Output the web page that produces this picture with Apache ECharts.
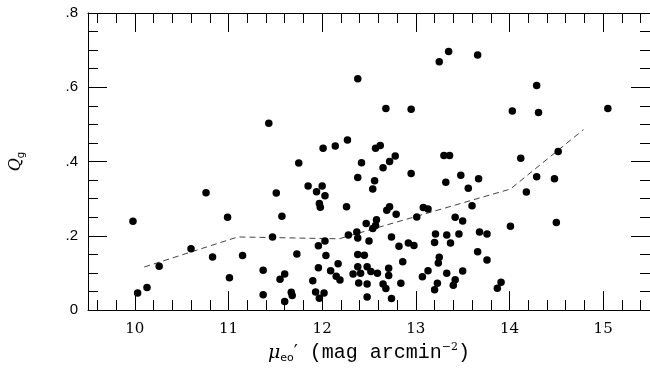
<!DOCTYPE html>
<html>
<head>
<meta charset="utf-8">
<script src="https://cdn.jsdelivr.net/npm/echarts@6/dist/echarts.min.js"></script>
<style>
  html, body { margin: 0; background: #fff; }
  #chart { width: 650px; height: 369px; }
</style>
</head>
<body>
<div id="chart"></div>
<script>
// surface brightness (mag arcmin^-2) and Q_g
var muValues = [
  9.98, 10.76, 10.99, 10.03, 10.13, 10.26, 10.60, 10.83, 11.01, 11.15,
  11.37, 11.37, 11.43, 11.51, 11.57, 11.47, 11.73, 11.60, 11.55, 11.60,
  11.67, 11.68, 11.75, 11.85, 12.00, 11.94, 12.03, 11.97, 11.98, 12.01,
  12.14, 12.27, 11.96, 12.03, 12.04, 11.96, 11.90, 11.93, 12.02, 11.97,
  12.09, 12.17, 12.15, 12.19, 12.28, 12.37, 12.38, 12.50, 12.54, 12.57,
  12.58, 12.47, 12.38, 12.42, 12.56, 12.54, 12.26, 12.57, 12.62, 12.65,
  12.72, 12.78, 12.38, 12.68, 12.95, 13.25, 13.35, 13.66, 14.29, 14.03,
  14.31, 15.05, 12.95, 13.30, 13.36, 13.32, 13.48, 13.67, 13.56, 14.12,
  14.52, 14.29, 14.48, 14.18, 13.60, 13.42, 13.50, 14.01, 14.50, 12.69,
  12.72, 12.79, 13.08, 13.13, 13.01, 12.74, 12.82, 12.92, 12.98, 13.21,
  13.20, 13.33, 13.37, 13.46, 13.68, 13.76, 13.66, 13.76, 12.86, 13.25,
  13.24, 12.71, 12.71, 13.13, 13.07, 13.33, 13.50, 13.42, 13.40, 13.23,
  13.20, 12.84, 12.65, 12.68, 12.74, 13.91, 13.87, 12.38, 12.48, 12.52,
  12.59, 12.33, 12.41, 12.39, 12.48, 12.48, 12.38, 12.45
]
var qValues = [
  0.239, 0.316, 0.250, 0.046, 0.061, 0.118, 0.165, 0.143, 0.087, 0.147,
  0.107, 0.041, 0.503, 0.315, 0.253, 0.197, 0.151, 0.097, 0.083, 0.023,
  0.048, 0.039, 0.396, 0.334, 0.334, 0.319, 0.308, 0.287, 0.277, 0.436,
  0.442, 0.458, 0.173, 0.186, 0.147, 0.114, 0.079, 0.049, 0.046, 0.032,
  0.106, 0.125, 0.091, 0.081, 0.202, 0.210, 0.194, 0.186, 0.220, 0.228,
  0.243, 0.233, 0.357, 0.397, 0.348, 0.326, 0.278, 0.436, 0.443, 0.383,
  0.400, 0.415, 0.623, 0.543, 0.541, 0.669, 0.696, 0.687, 0.605, 0.536,
  0.532, 0.543, 0.368, 0.416, 0.416, 0.344, 0.363, 0.354, 0.328, 0.409,
  0.427, 0.359, 0.354, 0.318, 0.281, 0.250, 0.240, 0.226, 0.236, 0.269,
  0.278, 0.258, 0.276, 0.272, 0.251, 0.197, 0.172, 0.181, 0.174, 0.205,
  0.182, 0.202, 0.181, 0.205, 0.210, 0.205, 0.157, 0.135, 0.130, 0.142,
  0.127, 0.113, 0.093, 0.106, 0.090, 0.099, 0.105, 0.082, 0.067, 0.072,
  0.055, 0.072, 0.070, 0.058, 0.031, 0.075, 0.059, 0.117, 0.117, 0.104,
  0.099, 0.097, 0.099, 0.073, 0.070, 0.035, 0.150, 0.148
]
// dashed running median
var trendMu = [10.10, 11.10, 12.18, 14.01, 14.79]
var trendQ = [0.116, 0.197, 0.192, 0.326, 0.486]

var xMajorTicks = [10, 11, 12, 13, 14, 15]
var xMinorTicks = [9.6, 9.8, 10.2, 10.4, 10.6, 10.8, 11.2, 11.4, 11.6, 11.8,
  12.2, 12.4, 12.6, 12.8, 13.2, 13.4, 13.6, 13.8, 14.2, 14.4, 14.6, 14.8, 15.2, 15.4]
var yTickLabels = ['0', '.2', '.4', '.6', '.8']

var chart = echarts.init(document.getElementById('chart'), null, { renderer: 'canvas' })

var points = []
for (var i = 0; i < muValues.length; i++) {
  points.push([muValues[i], qValues[i]])
}
var trend = []
for (var j = 0; j < trendMu.length; j++) {
  trend.push([trendMu[j], trendQ[j]])
}

function xAxisFor(position, ticks, len, main) {
  return {
    type: 'value',
    position: position,
    min: 9.5,
    max: 15.5,
    splitLine: { show: false },
    axisLine: { show: main, onZero: false, lineStyle: { color: '#000', width: 1 } },
    axisTick: { show: true, inside: true, length: len, customValues: ticks, lineStyle: { color: '#000', width: 1 } },
    axisLabel: {
      show: main && position === 'bottom',
      customValues: xMajorTicks,
      margin: 12,
      color: '#000',
      fontFamily: 'DejaVu Serif',
      fontSize: 15
    },
    name: main && position === 'bottom' ? '{mu|μ}{sub|eo}{pr|′}{n| (mag arcmin}{sup|−2}{n|)}' : '',
    nameLocation: 'middle',
    nameGap: 30,
    nameTextStyle: {
      rich: {
        mu: { fontFamily: 'DejaVu Serif', fontStyle: 'italic', fontSize: 19, color: '#000', lineHeight: 22 },
        pr: { fontFamily: 'DejaVu Serif', fontSize: 18, color: '#000', lineHeight: 22 },
        n: { fontFamily: 'Liberation Mono', fontSize: 20, color: '#000', lineHeight: 22 },
        sub: { fontFamily: 'DejaVu Sans', fontSize: 11, color: '#000', verticalAlign: 'bottom', lineHeight: 22 },
        sup: { fontFamily: 'DejaVu Serif', fontSize: 11, color: '#000', verticalAlign: 'top', lineHeight: 22 }
      }
    }
  }
}

function yAxisFor(position, main) {
  return {
    type: 'value',
    position: position,
    min: 0,
    max: 0.8,
    interval: 0.2,
    splitLine: { show: false },
    axisLine: { show: true, onZero: false, lineStyle: { color: '#000', width: 1 } },
    axisTick: { show: true, inside: true, length: 19, lineStyle: { color: '#000', width: 1 } },
    minorTick: { show: true, splitNumber: 4, length: 10, lineStyle: { color: '#000', width: 1 } },
    axisLabel: {
      show: main,
      margin: 10,
      color: '#000',
      fontFamily: 'Liberation Sans',
      fontSize: 15,
      formatter: function (v) { return yTickLabels[Math.round(v / 0.2)] }
    },
    name: main ? '{q|Q}{g|g}' : '',
    nameLocation: 'middle',
    nameRotate: 90,
    nameGap: 62,
    nameTextStyle: {
      rich: {
        q: { fontFamily: 'DejaVu Serif', fontStyle: 'italic', fontSize: 16, color: '#000', lineHeight: 20 },
        g: { fontFamily: 'DejaVu Sans', fontSize: 10, color: '#000', verticalAlign: 'bottom', lineHeight: 20 }
      }
    }
  }
}

chart.setOption({
  animation: false,
  backgroundColor: '#fff',
  grid: { left: 86, right: 0, top: 13, bottom: 56 },
  xAxis: [
    xAxisFor('bottom', xMajorTicks, 19, true),
    xAxisFor('bottom', xMinorTicks, 10, false),
    xAxisFor('top', xMajorTicks, 19, true),
    xAxisFor('top', xMinorTicks, 10, false)
  ],
  yAxis: [
    yAxisFor('left', true),
    yAxisFor('right', false)
  ],
  series: [
    {
      type: 'line',
      data: trend,
      symbol: 'none',
      lineStyle: { color: '#444', width: 1, type: [6, 4] },
      z: 1
    },
    {
      type: 'scatter',
      data: points,
      symbol: 'circle',
      symbolSize: 7.5,
      itemStyle: { color: '#000', opacity: 1 },
      z: 2
    }
  ]
})
</script>
</body>
</html>
